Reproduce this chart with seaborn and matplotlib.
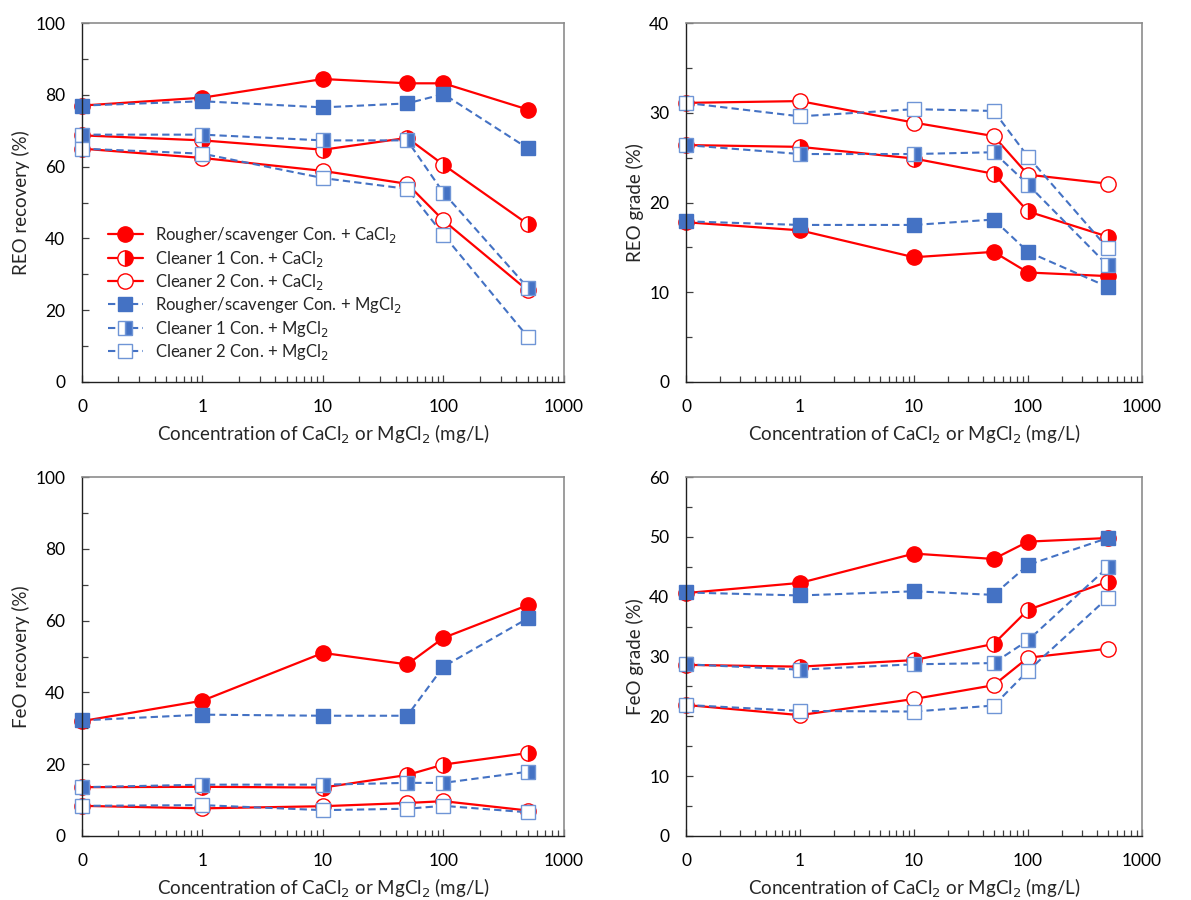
import numpy as np
import pandas as pd
import matplotlib
matplotlib.use("Agg")
import matplotlib.pyplot as plt
from matplotlib.ticker import FixedLocator, FixedFormatter, LogLocator, NullFormatter, MultipleLocator
import seaborn as sns

sns.set_theme(style="white")
plt.rcParams['font.family'] = ['Lato', 'DejaVu Sans']

# concentrations (mg/L); "0" is drawn at 0.1 on the log axis
conc_labels = ["0", "1", "10", "50", "100", "500"]
conc_plot = [0.1, 1, 10, 50, 100, 500]

series_names = [
    "Rougher/scavenger Con. + CaCl$_2$",
    "Cleaner 1 Con. + CaCl$_2$",
    "Cleaner 2 Con. + CaCl$_2$",
    "Rougher/scavenger Con. + MgCl$_2$",
    "Cleaner 1 Con. + MgCl$_2$",
    "Cleaner 2 Con. + MgCl$_2$",
]

# REO recovery (%)
reo_rec_rs_ca = [77.0, 79.2, 84.4, 83.2, 83.2, 75.9]
reo_rec_c1_ca = [68.7, 67.3, 64.7, 68.0, 60.5, 44.0]
reo_rec_c2_ca = [65.0, 62.4, 58.8, 55.2, 45.0, 25.5]
reo_rec_rs_mg = [77.0, 78.2, 76.5, 77.6, 80.2, 65.1]
reo_rec_c1_mg = [68.9, 68.9, 67.3, 67.3, 52.7, 26.3]
reo_rec_c2_mg = [65.0, 63.6, 56.8, 53.8, 41.0, 12.6]

# REO grade (%)
reo_gr_rs_ca = [17.8, 16.9, 13.9, 14.5, 12.2, 11.8]
reo_gr_c1_ca = [26.4, 26.2, 24.9, 23.2, 19.0, 16.2]
reo_gr_c2_ca = [31.1, 31.3, 28.9, 27.4, 23.1, 22.1]
reo_gr_rs_mg = [17.9, 17.5, 17.5, 18.1, 14.5, 10.6]
reo_gr_c1_mg = [26.4, 25.4, 25.4, 25.6, 22.0, 13.0]
reo_gr_c2_mg = [31.1, 29.6, 30.4, 30.2, 25.1, 14.9]

# FeO recovery (%)
feo_rec_rs_ca = [32.0, 37.7, 51.0, 47.8, 55.2, 64.3]
feo_rec_c1_ca = [13.6, 13.7, 13.5, 17.0, 19.9, 23.1]
feo_rec_c2_ca = [8.4, 7.7, 8.3, 9.2, 9.7, 7.1]
feo_rec_rs_mg = [32.2, 33.8, 33.5, 33.5, 47.2, 60.6]
feo_rec_c1_mg = [13.6, 14.3, 14.3, 14.8, 14.8, 17.9]
feo_rec_c2_mg = [8.4, 8.6, 7.2, 7.6, 8.4, 6.6]

# FeO grade (%)
feo_gr_rs_ca = [40.6, 42.3, 47.2, 46.3, 49.2, 49.8]
feo_gr_c1_ca = [28.6, 28.3, 29.4, 32.1, 37.8, 42.5]
feo_gr_c2_ca = [21.9, 20.2, 22.9, 25.2, 29.8, 31.3]
feo_gr_rs_mg = [40.7, 40.2, 40.9, 40.3, 45.3, 49.8]
feo_gr_c1_mg = [28.7, 27.8, 28.7, 28.9, 32.7, 44.9]
feo_gr_c2_mg = [21.9, 20.9, 20.8, 21.8, 27.6, 39.8]

panels = [
    ("REO recovery (%)", 100, 20, 10,
     [reo_rec_rs_ca, reo_rec_c1_ca, reo_rec_c2_ca, reo_rec_rs_mg, reo_rec_c1_mg, reo_rec_c2_mg]),
    ("REO grade (%)", 40, 10, 5,
     [reo_gr_rs_ca, reo_gr_c1_ca, reo_gr_c2_ca, reo_gr_rs_mg, reo_gr_c1_mg, reo_gr_c2_mg]),
    ("FeO recovery (%)", 100, 20, 10,
     [feo_rec_rs_ca, feo_rec_c1_ca, feo_rec_c2_ca, feo_rec_rs_mg, feo_rec_c1_mg, feo_rec_c2_mg]),
    ("FeO grade (%)", 60, 10, 5,
     [feo_gr_rs_ca, feo_gr_c1_ca, feo_gr_c2_ca, feo_gr_rs_mg, feo_gr_c1_mg, feo_gr_c2_mg]),
]

RED = "#FF0000"
BLUE = "#4472C4"
BLUE_L = "#6F95D6"

styles = [
    dict(color=RED, linestyle="-", lw=1.6, marker="o", ms=11, mfc=RED, mec=RED, fill="full", mfa="white"),
    dict(color=RED, linestyle="-", lw=1.6, marker="o", ms=11, mfc=RED, mec=RED, fill="right", mfa="white"),
    dict(color=RED, linestyle="-", lw=1.6, marker="o", ms=11, mfc="white", mec=RED, fill="full", mfa="white"),
    dict(color=BLUE, linestyle=(0, (3.5, 2)), lw=1.5, marker="s", ms=10, mfc=BLUE, mec=BLUE, fill="full", mfa="white"),
    dict(color=BLUE, linestyle=(0, (3.5, 2)), lw=1.5, marker="s", ms=10, mfc=BLUE, mec=BLUE_L, fill="right", mfa="white"),
    dict(color=BLUE, linestyle=(0, (3.5, 2)), lw=1.5, marker="s", ms=10, mfc="white", mec=BLUE_L, fill="full", mfa="white"),
]

fig = plt.figure(figsize=(11.91, 9.0), dpi=100)
W, H = 1191, 900
boxes = [(82, 23, 564, 382), (686, 23, 1142, 382), (82, 477, 564, 836), (686, 477, 1142, 836)]

for i, (ylabel, ymax, ystep, yminor, data) in enumerate(panels):
    l, t, r, b = boxes[i]
    ax = fig.add_axes([l / W, 1 - b / H, (r - l) / W, (b - t) / H])
    ax.set_xscale("log")
    for name, vals, st in zip(series_names, data, styles):
        df = pd.DataFrame({"x": conc_plot, "y": vals})
        sns.lineplot(data=df, x="x", y="y", ax=ax, estimator=None, sort=False,
                     color=st["color"], linestyle=st["linestyle"], linewidth=st["lw"],
                     marker=st["marker"], markersize=st["ms"], markerfacecolor=st["mfc"],
                     markeredgecolor=st["mec"], markeredgewidth=1.0,
                     fillstyle=st["fill"], markerfacecoloralt=st["mfa"],
                     label=name, legend=False, clip_on=False)
    ax.set_xlim(0.1, 1000)
    ax.set_ylim(0, ymax)
    ax.xaxis.set_major_locator(FixedLocator([0.1, 1, 10, 100, 1000]))
    ax.xaxis.set_major_formatter(FixedFormatter(["0", "1", "10", "100", "1000"]))
    ax.xaxis.set_minor_locator(LogLocator(base=10, subs=np.arange(2, 10), numticks=20))
    ax.xaxis.set_minor_formatter(NullFormatter())
    ax.yaxis.set_major_locator(MultipleLocator(ystep))
    ax.yaxis.set_minor_locator(MultipleLocator(yminor))
    ax.tick_params(axis="both", which="major", direction="in", length=5, width=0.9,
                   colors="#404040", labelcolor="black", labelsize=12.5,
                   bottom=True, left=True, top=False, right=False)
    ax.tick_params(axis="x", which="major", pad=12)
    ax.tick_params(axis="y", which="major", pad=12)
    ax.tick_params(axis="both", which="minor", direction="in", length=4, width=0.9,
                   colors="#404040", bottom=True, left=True, top=False, right=False)
    for side in ["left", "bottom"]:
        ax.spines[side].set_color("#202020")
        ax.spines[side].set_linewidth(1.0)
    for side in ["top", "right"]:
        ax.spines[side].set_color("#8C8C8C")
        ax.spines[side].set_linewidth(1.2)
    ax.set_xlabel("Concentration of CaCl$_2$ or MgCl$_2$ (mg/L)", fontsize=13.5, labelpad=6)
    ax.set_ylabel(ylabel, fontsize=13.5, labelpad=4)
    ax.grid(False)
    ax.set_facecolor("white")
    if i == 0:
        ax.legend(loc="upper left", bbox_to_anchor=(0.04, 0.455), frameon=False,
                  fontsize=12, handlelength=2.1, handletextpad=0.7,
                  labelspacing=0.2, borderaxespad=0.0)

fig.savefig("out.png", dpi=100, facecolor="white")
